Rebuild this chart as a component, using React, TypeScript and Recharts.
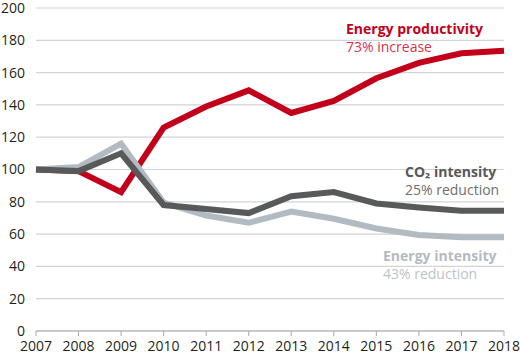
import { LineChart, Line, XAxis, YAxis, CartesianGrid } from 'recharts';

const years = ['2007', '2008', '2009', '2010', '2011', '2012', '2013', '2014', '2015', '2016', '2017', '2018'];
const energyProductivity = [100, 99, 86, 126, 139, 149, 135, 142.5, 156.5, 166, 172, 173.5];
const co2Intensity = [100, 99, 110, 78, 75.5, 73, 83.5, 86, 79, 76.5, 74.5, 74.5];
const energyIntensity = [100, 101.5, 116, 79.5, 71.5, 67, 74, 69.5, 63.5, 59.5, 58, 58];
const yTicks = [0, 20, 40, 60, 80, 100, 120, 140, 160, 180, 200];

const data = years.map((year, i) => ({
  year,
  productivity: energyProductivity[i],
  co2: co2Intensity[i],
  intensity: energyIntensity[i],
}));

const RED = '#c3001b';
const DARK = '#58595b';
const LIGHT = '#b2bbc2';
const FONT = '"Open Sans", sans-serif';

const tick = { fontSize: 14, fill: '#231f20', fontFamily: FONT };

export default function App() {
  return (
    <div style={{ position: 'absolute', left: 0, top: 0, width: 520, height: 357, background: '#fff' }}>
      <LineChart width={520} height={357} data={data} margin={{ top: 8, right: 16, left: 0, bottom: 0 }}>
        <CartesianGrid vertical={false} stroke="#d1d3d4" strokeWidth={1.2} />
        <XAxis
          dataKey="year"
          tick={tick}
          stroke="#a7a9ac"
          tickSize={5}
          tickMargin={5}
          height={26}
          interval={0}
        />
        <YAxis
          domain={[0, 200]}
          ticks={yTicks}
          tick={tick}
          axisLine={false}
          tickLine={false}
          tickSize={0}
          tickMargin={11}
          width={36}
        />
        <Line dataKey="productivity" stroke={RED} strokeWidth={6} dot={false} isAnimationActive={false} />
        <Line dataKey="intensity" stroke={LIGHT} strokeWidth={6} dot={false} isAnimationActive={false} />
        <Line dataKey="co2" stroke={DARK} strokeWidth={6} dot={false} isAnimationActive={false} />
      </LineChart>
      <div style={{ position: 'absolute', left: 346, top: 20, fontFamily: FONT, lineHeight: '18px' }}>
        <div style={{ fontWeight: 700, fontSize: 14, color: RED }}>Energy productivity</div>
        <div style={{ fontSize: 14, color: '#d0354a' }}>73% increase</div>
      </div>
      <div style={{ position: 'absolute', left: 405, top: 163, fontFamily: FONT, lineHeight: '18px' }}>
        <div style={{ fontWeight: 700, fontSize: 14, color: DARK }}>CO₂ intensity</div>
        <div style={{ fontSize: 14, color: '#6d6e71' }}>25% reduction</div>
      </div>
      <div style={{ position: 'absolute', left: 383, top: 247, fontFamily: FONT, lineHeight: '18px' }}>
        <div style={{ fontWeight: 700, fontSize: 14, color: LIGHT }}>Energy intensity</div>
        <div style={{ fontSize: 14, color: '#bcc3c9' }}>43% reduction</div>
      </div>
    </div>
  );
}
